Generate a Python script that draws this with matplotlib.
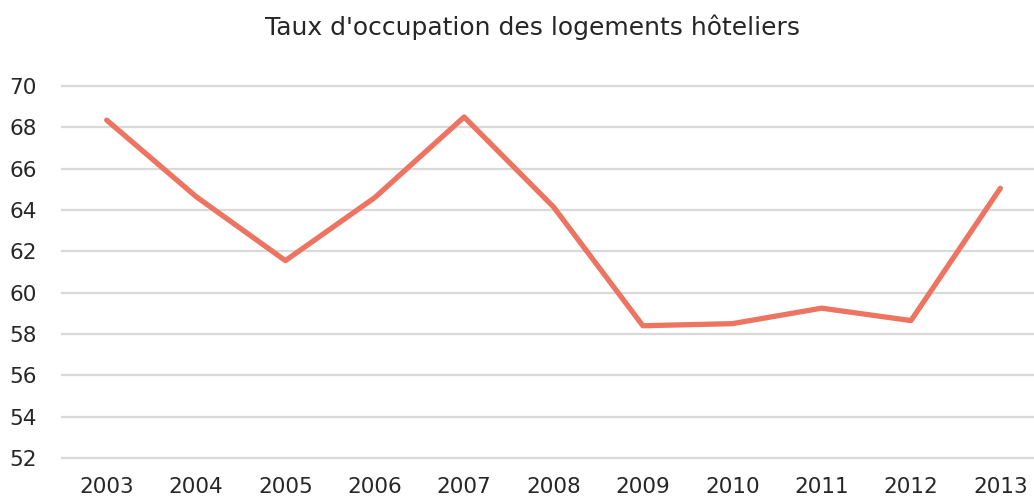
import matplotlib
matplotlib.use("Agg")
import matplotlib.pyplot as plt

years = ["2003", "2004", "2005", "2006", "2007", "2008",
         "2009", "2010", "2011", "2012", "2013"]
taux = [68.35, 64.65, 61.55, 64.6, 68.5, 64.15, 58.4, 58.5, 59.25, 58.65, 65.05]
yticks = list(range(52, 71, 2))

plt.rcParams['font.family'] = ['DejaVu Sans']

fig = plt.figure(figsize=(10.34, 4.99), dpi=100)
ax = fig.add_axes([62 / 1034, 41 / 499, 983 / 1034, 372 / 499])

x = list(range(len(years)))
ax.plot(x, taux, color="#EE7462", lw=3.8, solid_capstyle="round", zorder=3)

ax.set_xlim(-0.5, len(years) - 0.5)
ax.set_ylim(52, 70)
ax.set_xticks(x)
ax.set_xticklabels(years)
ax.set_yticks(yticks)
ax.grid(axis="y", color="#d9d9d9", lw=1.6)
for gl in ax.get_ygridlines():
    gl.set_clip_on(False)
ax.set_axisbelow(True)
for s in ax.spines.values():
    s.set_visible(False)
ax.tick_params(length=0, labelsize=15.5, colors="#262626")
ax.tick_params(axis="x", pad=14)
ax.tick_params(axis="y", pad=18)

fig.text(0.515, 0.945, "Taux d'occupation des logements hôteliers",
         ha="center", va="center", fontsize=18, color="#262626")

fig.savefig("out.png", dpi=100)
